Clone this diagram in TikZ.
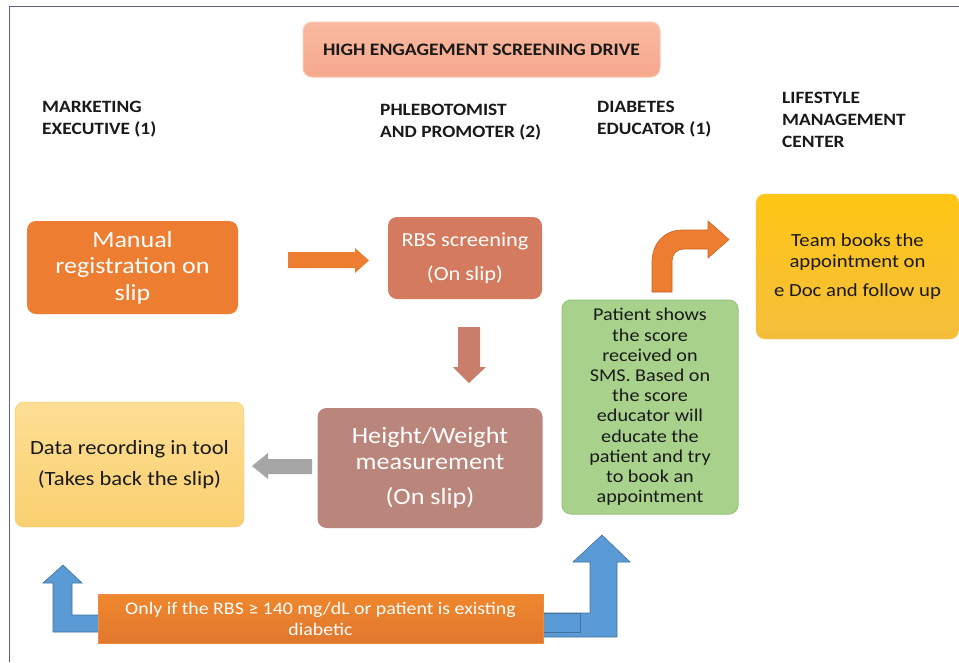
\documentclass[tikz,border=0pt]{standalone}
\usepackage{fontspec}
\setmainfont{Carlito}[FakeStretch=1.12]
\definecolor{frameblue}{RGB}{88,98,140}
\definecolor{titletop}{RGB}{249,185,160}
\definecolor{titlebot}{RGB}{245,168,140}
\definecolor{titleedge}{RGB}{250,200,180}
\definecolor{orangeA}{RGB}{237,125,49}
\definecolor{orangeEdge}{RGB}{200,100,40}
\definecolor{rbsfill}{RGB}{212,122,94}
\definecolor{downfill}{RGB}{200,126,106}
\definecolor{hwfill}{RGB}{186,133,122}
\definecolor{grayarrow}{RGB}{165,165,165}
\definecolor{datatop}{RGB}{253,222,148}
\definecolor{databot}{RGB}{250,208,112}
\definecolor{greenfill}{RGB}{168,210,140}
\definecolor{greenedge}{RGB}{150,196,125}
\definecolor{goldtop}{RGB}{255,198,20}
\definecolor{goldbot}{RGB}{244,190,60}
\definecolor{bluefill}{RGB}{91,155,213}
\definecolor{blueedge}{RGB}{65,113,156}
\definecolor{txt}{RGB}{25,25,25}
\tikzset{
  box/.style={rounded corners=9pt, inner sep=2pt, align=center},
  header/.style={anchor=north west, align=left, font=\fontsize{17.3}{22}\selectfont\bfseries, text=txt, inner sep=0pt},
  arrowedge/.style={line width=0.6pt, line join=miter},
}
\begin{document}
\begin{tikzpicture}[x=1pt,y=-1pt]
\useasboundingbox (0,0) rectangle (959,662);
\fill[white] (0,0) rectangle (959,662);
% frame
\draw[frameblue, line width=1.8pt] (9.5,662) -- (9.5,6.5) -- (959,6.5);

% title
\node[box, draw=titleedge, line width=1pt, top color=titletop, bottom color=titlebot, minimum width=357pt, minimum height=55pt,
      font=\fontsize{17.5}{20}\selectfont\bfseries, text=txt] (title) at (481.5,49.5) {HIGH ENGAGEMENT SCREENING DRIVE};

% headers
\node[header] (h1) at (42,101) {MARKETING\\EXECUTIVE (1)};
\node[header] (h2) at (380,104) {PHLEBOTOMIST\\AND PROMOTER (2)};
\node[header] (h3) at (597,101) {DIABETES\\EDUCATOR (1)};
\node[header] (h4) at (782,92) {LIFESTYLE\\MANAGEMENT\\CENTER};

% boxes
\node[box, fill=orangeA, minimum width=211pt, minimum height=93pt, text=white,
      font=\fontsize{23.2}{26.5}\selectfont] (manual) at (132.5,267.5) {Manual\\registration on\\slip};
\node[box, fill=rbsfill, minimum width=154pt, minimum height=82pt, text=white,
      font=\fontsize{20}{22}\selectfont] (rbs) at (465,258) {RBS screening\\[12pt](On slip)};
\node[box, fill=hwfill, minimum width=225pt, minimum height=120pt, text=white,
      font=\fontsize{23.4}{26}\selectfont] (hw) at (430,468) {Height/Weight\\measurement\\[9pt](On slip)};
\node[box, top color=datatop, bottom color=databot, draw=databot!85!orange, minimum width=229pt, minimum height=125pt, text=txt,
      font=\fontsize{20.2}{31}\selectfont] (data) at (129.5,464.5) {Data recording in tool\\(Takes back the slip)};
\node[box, fill=greenfill, draw=greenedge, line width=1pt, minimum width=176pt, minimum height=214pt, text=txt,
      font=\fontsize{18}{20.2}\selectfont] (edu) at (650,407) {Patient shows\\the score\\received on\\SMS. Based on\\the score\\educator will\\educate the\\patient and try\\to book an\\appointment};
\node[box, top color=goldtop, bottom color=goldbot, draw=goldbot!80!white, minimum width=203pt, minimum height=145pt, text=txt,
      font=\fontsize{18.5}{21}\selectfont] (team) at (857.5,266.5) {Team books the\\appointment on\\[8pt]e Doc and follow up};

% arrows
\fill[orangeA] (288,252) -- (355,252) -- (355,248) -- (369,260.5) -- (355,273) -- (355,268) -- (288,268) -- cycle;
\fill[downfill] (458,327) -- (480,327) -- (480,367) -- (486,367) -- (469,383) -- (453,367) -- (458,367) -- cycle;
\fill[grayarrow] (312,459) -- (268,459) -- (268,453) -- (252,466) -- (268,479) -- (268,474) -- (312,474) -- cycle;
\draw[orangeEdge, fill=orangeA, arrowedge] (652,292) -- (652,262) .. controls (652,244) and (664,230) .. (682,230)
   -- (708,230) -- (708,221) -- (729,239.5) -- (708,258) -- (708,249) -- (684,249)
   .. controls (677,249) and (672,254) .. (672,261) -- (672,292) -- cycle;

% blue U arrows
\draw[blueedge, fill=bluefill, arrowedge] (53,632) -- (53,583) -- (43,583) -- (63,565) -- (82,583) -- (72,583) -- (72,615) -- (100,615) -- (100,632) -- cycle;
\draw[blueedge, fill=bluefill, arrowedge] (540,613) -- (590,613) -- (590,562) -- (573,562) -- (602,535) -- (630,562) -- (617,562) -- (617,637) -- (540,637) -- cycle;
\draw[blueedge, line width=0.8pt] (543,613) rectangle (580,632);

% bottom condition box
\node[top color=orangeA!92!yellow, bottom color=orangeA!95!black, draw=orangeA!90!white, minimum width=445pt, minimum height=49pt, inner sep=0pt, align=center, text=white,
      font=\fontsize{17.7}{21}\selectfont] (cond) at (320.5,618.5) {Only if the RBS ≥ 140 mg/dL or patient is existing\\diabetic};
\end{tikzpicture}
\end{document}
